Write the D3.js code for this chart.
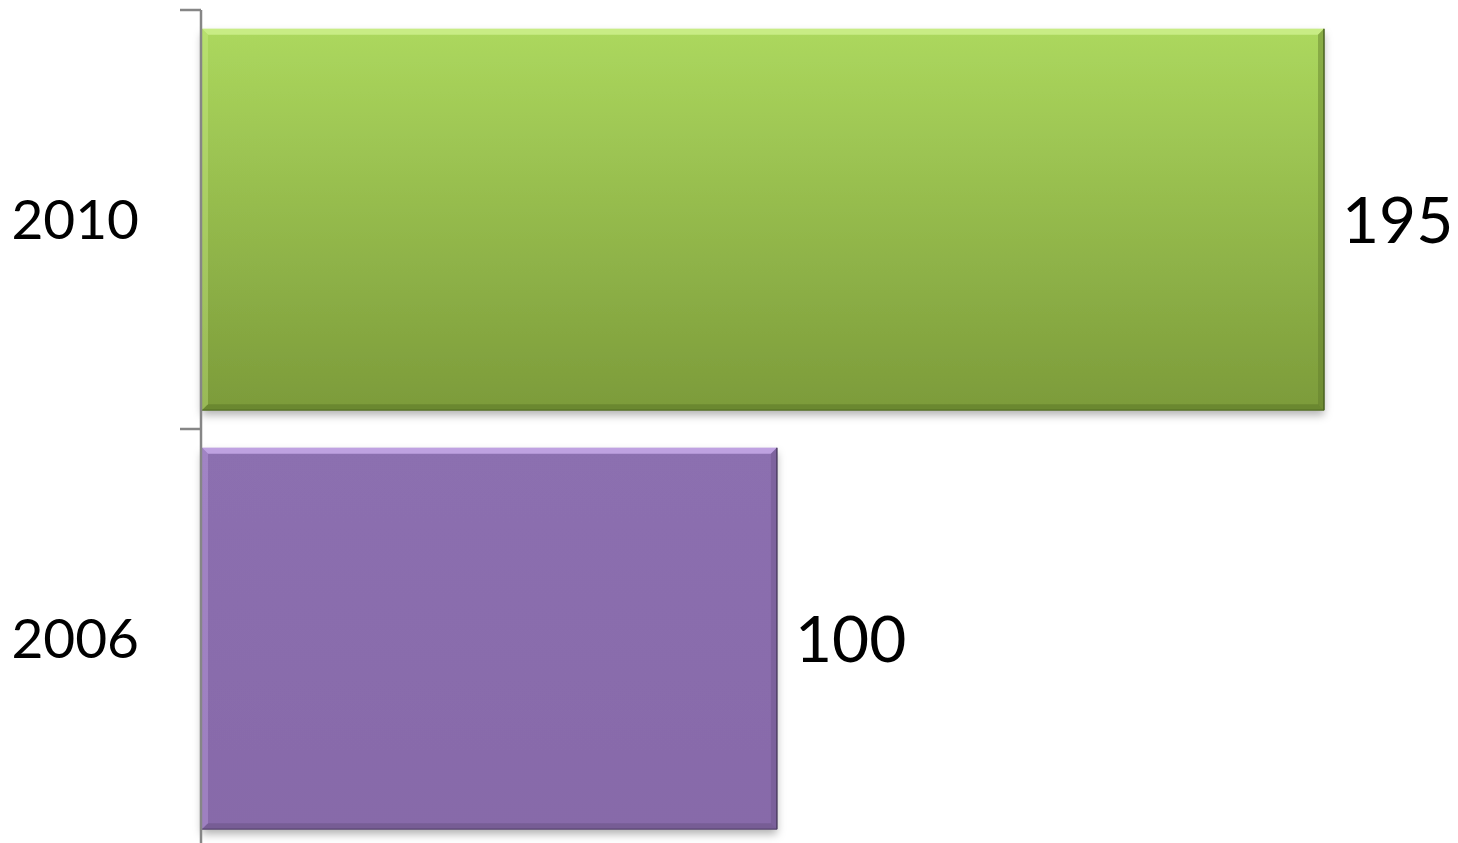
<!DOCTYPE html>
<html lang="en">
<head>
  <meta charset="utf-8">
  <title>Bar chart 2006 / 2010</title>
  <script src="https://d3js.org/d3.v7.min.js"></script>
  <style>
    body { margin: 0; background: #fff; }
    text { font-family: Lato, "Open Sans", sans-serif; fill: #000; }
  </style>
</head>
<body>
<script>
  // data
  var categories = ["2010", "2006"];
  var values = [195, 100];
  var barColors = [
    { top: "#acd85e", bottom: "#7c9b3a", light: "#cdf08c", dark: "#5f7b2a", edge: "#4a6220" },
    { top: "#8c6fb0", bottom: "#876aa9", light: "#c8aaea", dark: "#6c5589", edge: "#4d3d63" }
  ];

  var width = 1458, height = 843;

  var svg = d3.select("body").append("svg")
    .attr("width", width)
    .attr("height", height);

  var defs = svg.append("defs");

  var shadow = defs.append("filter")
    .attr("id", "shadow")
    .attr("x", "-5%").attr("y", "-5%")
    .attr("width", "115%").attr("height", "125%");
  shadow.append("feDropShadow")
    .attr("dx", 0).attr("dy", 5)
    .attr("stdDeviation", 4)
    .attr("flood-color", "#000")
    .attr("flood-opacity", 0.3);

  barColors.forEach(function(c, i) {
    var g = defs.append("linearGradient")
      .attr("id", "grad" + i)
      .attr("x1", 0).attr("y1", 0).attr("x2", 0).attr("y2", 1);
    g.append("stop").attr("offset", "0%").attr("stop-color", c.top);
    g.append("stop").attr("offset", "100%").attr("stop-color", c.bottom);
  });

  var x = d3.scaleLinear()
    .domain([0, 195])
    .range([201, 1324]);

  var y = d3.scaleBand()
    .domain(categories)
    .range([10, 848])
    .paddingInner(0.09)
    .paddingOuter(0.045);

  var bev = 6;

  var bars = svg.selectAll(".bar")
    .data(categories)
    .enter().append("g")
    .attr("class", "bar");

  bars.each(function(d, i) {
    var g = d3.select(this);
    var c = barColors[i];
    var x0 = x(0) + 1, x1 = x(values[i]);
    var y0 = y(d), y1 = y(d) + y.bandwidth();

    g.append("rect")
      .attr("x", x0).attr("y", y0)
      .attr("width", x1 - x0).attr("height", y1 - y0)
      .attr("fill", "url(#grad" + i + ")")
      .attr("filter", "url(#shadow)");

    // bevel faces
    g.append("polygon")
      .attr("points", [[x0, y0], [x1, y0], [x1 - bev, y0 + bev], [x0 + bev, y0 + bev]].join(" "))
      .attr("fill", c.light).attr("opacity", 0.85);
    g.append("polygon")
      .attr("points", [[x0, y0], [x0 + bev, y0 + bev], [x0 + bev, y1 - bev], [x0, y1]].join(" "))
      .attr("fill", c.light).attr("opacity", 0.35);
    g.append("polygon")
      .attr("points", [[x1, y0], [x1, y1], [x1 - bev, y1 - bev], [x1 - bev, y0 + bev]].join(" "))
      .attr("fill", c.dark).attr("opacity", 0.45);
    g.append("polygon")
      .attr("points", [[x0, y1], [x1, y1], [x1 - bev, y1 - bev], [x0 + bev, y1 - bev]].join(" "))
      .attr("fill", c.dark).attr("opacity", 0.6);
    g.append("line")
      .attr("x1", x1).attr("x2", x1).attr("y1", y0).attr("y2", y1)
      .attr("stroke", c.edge).attr("stroke-width", 1.5);
    g.append("line")
      .attr("x1", x0).attr("x2", x1).attr("y1", y1).attr("y2", y1)
      .attr("stroke", c.edge).attr("stroke-width", 1);

    // value label
    g.append("text")
      .attr("x", x1 + 18)
      .attr("y", y0 + y.bandwidth() / 2)
      .attr("dy", "0.36em")
      .attr("font-size", 64)
      .text(values[i]);

    // category label
    g.append("text")
      .attr("x", 139)
      .attr("y", y0 + y.bandwidth() / 2)
      .attr("dy", "0.35em")
      .attr("text-anchor", "end")
      .attr("font-size", 55)
      .text(d);
  });

  // axis (drawn over the bars' left edge)
  var axis = svg.append("g")
    .attr("transform", "translate(201,0)")
    .call(d3.axisLeft(y).tickSize(0).tickFormat(""));
  axis.select(".domain").remove();
  axis.append("line")
    .attr("y1", 10).attr("y2", 848)
    .attr("stroke", "#868686").attr("stroke-width", 2.5);
  // tick marks at band boundaries
  axis.selectAll(".bound")
    .data(categories)
    .enter().append("line")
    .attr("class", "bound")
    .attr("x1", -21).attr("x2", 0)
    .attr("y1", function(d) { return y(d) - y.step() * y.paddingOuter(); })
    .attr("y2", function(d) { return y(d) - y.step() * y.paddingOuter(); })
    .attr("stroke", "#868686").attr("stroke-width", 2.5);
</script>
</body>
</html>
